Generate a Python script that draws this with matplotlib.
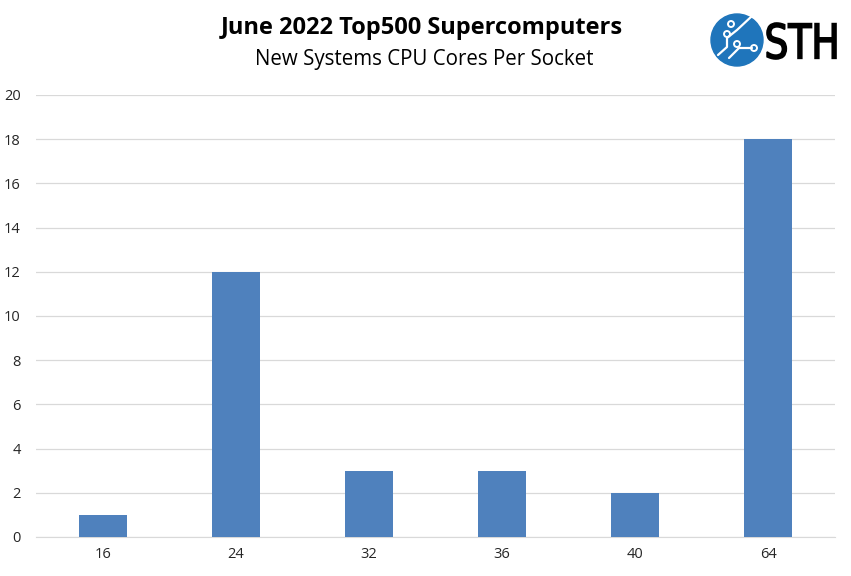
import matplotlib
matplotlib.use("Agg")
import matplotlib.pyplot as plt
from matplotlib.patches import Circle, PathPatch
from matplotlib.textpath import TextPath
from matplotlib.font_manager import FontProperties
from matplotlib.transforms import Affine2D

categories = ["16", "24", "32", "36", "40", "64"]
values = [1, 12, 3, 3, 2, 18]
yticks = [0, 2, 4, 6, 8, 10, 12, 14, 16, 18, 20]

plt.rcParams['font.family'] = ['Open Sans', 'DejaVu Sans']

fig = plt.figure(figsize=(8.51, 5.76), dpi=100)
ax = fig.add_axes([36/851, 1-537/576, (835-36)/851, (537-95)/576])

x = list(range(len(categories)))
ax.bar(x, values, width=0.36, color='#4F81BD', zorder=3)
ax.set_xlim(-0.5, len(categories)-0.5)
ax.set_ylim(0, 20)
ax.set_yticks(yticks)
ax.set_xticks(x)
ax.set_xticklabels(categories)
ax.grid(axis='y', color='#D9D9D9', linewidth=0.9, zorder=0)
for s in ['top', 'right', 'left']:
    ax.spines[s].set_visible(False)
ax.spines['bottom'].set_color('#D9D9D9')
ax.tick_params(axis='both', length=0, labelsize=10.5, colors='#262626')
ax.tick_params(axis='y', pad=11)
ax.tick_params(axis='x', pad=7)

fig.text(422/851, 1-28/576, "June 2022 Top500 Supercomputers", ha='center', va='center',
         fontsize=17, fontweight='bold', color='black')
fig.text(424/851, 1-60/576, "New Systems CPU Cores Per Socket", ha='center', va='center',
         fontsize=14.8, color='black')

# logo
lax = fig.add_axes([700/851, 1-72/576, 145/851, 64/576])
lax.set_xlim(700, 845)
lax.set_ylim(72, 8)
lax.axis('off')
blue = '#1F75BB'
lax.add_patch(Circle((737, 40), 26, color=blue))
lax.plot([718, 727, 727, 737, 752], [55, 47, 38, 30, 16], color='white', lw=1.6, solid_capstyle='round')
lax.plot([729, 739, 752], [58, 48, 48], color='white', lw=1.6, solid_capstyle='round')
for cx, cy in [(727, 34), (737, 44), (754, 48), (731, 24)]:
    lax.add_patch(Circle((cx, cy), 3.0, facecolor=blue, edgecolor='white', lw=1.4))
tp = TextPath((0, 0), "STH", size=10, prop=FontProperties(family='DejaVu Sans', weight='normal'))
ext = tp.get_extents()
sx = (836-767) / ext.width
sy = (59-23) / ext.height
tr = Affine2D().translate(-ext.x0, -ext.y0).scale(sx, -sy).translate(767, 59)
lax.add_patch(PathPatch(tr.transform_path(tp), facecolor='black', edgecolor='black', lw=1.2))

fig.savefig("out.png", dpi=100)
